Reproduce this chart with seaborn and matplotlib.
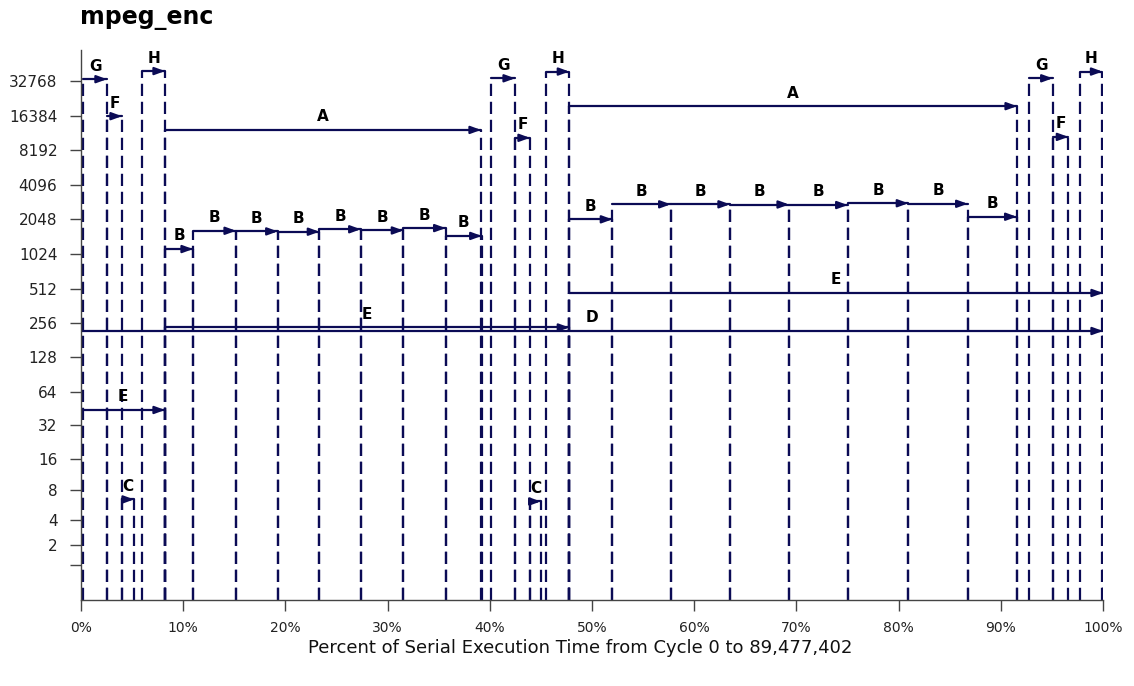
import numpy as np
import pandas as pd
import matplotlib
matplotlib.use('Agg')
import matplotlib.pyplot as plt
import seaborn as sns

# Task segments: name, start (% of serial time), end (%), value (log2(1+y) axis)
seg_names = ['E', 'D', 'G', 'F', 'C', 'H', 'A',
             'B', 'B', 'B', 'B', 'B', 'B', 'B', 'B', 'E',
             'G', 'F', 'C', 'H',
             'A', 'B', 'B', 'B', 'B', 'B', 'B', 'B', 'B', 'E',
             'G', 'F', 'H']
seg_start = [0.0, 0.0, 0.2, 2.54, 3.98, 5.97, 8.22,
             8.22, 10.96, 15.17, 19.25, 23.32, 27.37, 31.54, 35.68, 8.22,
             40.12, 42.47, 43.93, 45.50,
             47.78, 47.78, 51.99, 57.70, 63.50, 69.28, 75.02, 80.95, 86.76, 47.78,
             92.79, 95.08, 97.75]
seg_end = [8.22, 100.0, 2.54, 4.01, 5.19, 8.22, 39.14,
           10.96, 15.17, 19.25, 23.32, 27.37, 31.54, 35.68, 39.21, 47.78,
           42.47, 43.93, 44.98, 47.78,
           91.59, 51.99, 57.70, 63.50, 69.28, 75.02, 80.95, 86.76, 91.55, 100.0,
           95.08, 96.61, 99.95]
seg_value = [44, 218, 34000, 16200, 6.5, 40000, 12300,
             1130, 1630, 1610, 1600, 1680, 1640, 1720, 1470, 234,
             34600, 10500, 6.2, 39600,
             19800, 2050, 2770, 2770, 2760, 2730, 2830, 2800, 2160, 468,
             34600, 10700, 39600]

y_ticks = [1, 2, 4, 8, 16, 32, 64, 128, 256, 512, 1024, 2048, 4096,
           8192, 16384, 32768]
y_ticklabels = [''] + [str(v) for v in y_ticks[1:]]
x_ticks = [0, 10, 20, 30, 40, 50, 60, 70, 80, 90, 100]
x_ticklabels = [f'{v}%' for v in x_ticks]

navy = '#0b0b55'

sns.set_style('ticks')
plt.rcParams['font.family'] = ['DejaVu Sans']
plt.rcParams['text.color'] = '#111111'
plt.rcParams['xtick.labelcolor'] = '#222222'
plt.rcParams['ytick.labelcolor'] = '#222222'

# long-form tables for seaborn
hor = pd.DataFrame({
    'x': np.ravel(np.column_stack([seg_start, seg_end])),
    'y': np.repeat(seg_value, 2),
    'seg': np.repeat(np.arange(len(seg_names)), 2),
})
# dashed drop lines at both ends of every segment, drawn up from the axis
ver_x, ver_y, ver_u = [], [], []
k = 0
for s, e, v in zip(seg_start, seg_end, seg_value):
    for xx in (s, e):
        ver_x += [xx, xx]
        ver_y += [0, v]
        ver_u += [k, k]
        k += 1
ver = pd.DataFrame({'x': ver_x, 'y': ver_y, 'seg': ver_u})

fig = plt.figure(figsize=(11.34, 6.86), dpi=100)
ax = fig.add_axes([81 / 1134, 1 - 600 / 686, 1022 / 1134, 550 / 686])

ax.set_yscale('function', functions=(lambda y: np.log2(1 + np.maximum(y, -0.999)),
                                     lambda y: 2.0 ** y - 1))

sns.lineplot(data=ver, x='x', y='y', units='seg', estimator=None, sort=False,
             color=navy, lw=1.6, linestyle=(0, (5.5, 2.6)), ax=ax)
sns.lineplot(data=hor, x='x', y='y', units='seg', estimator=None, sort=False,
             color=navy, lw=1.6, ax=ax)

for name, s, e, v in zip(seg_names, seg_start, seg_end, seg_value):
    ax.annotate('', xy=(e, v), xytext=(e - 1.0, v),
                arrowprops=dict(arrowstyle='-|>,head_length=0.6,head_width=0.22',
                                color=navy, lw=1.6, shrinkA=0, shrinkB=0))
    ax.annotate(name, xy=((s + e) / 2, v), xytext=(0, 4), textcoords='offset points',
                ha='center', va='bottom', fontsize=11, fontweight='bold', color='black')

ax.set_xlim(0, 100)
ax.set_ylim(0, 61000)
ax.set_yticks(y_ticks)
ax.set_yticklabels(y_ticklabels)
ax.set_xticks(x_ticks)
ax.set_xticklabels(x_ticklabels)
ax.minorticks_off()
ax.tick_params(axis='y', length=8, width=1, color='#444444', labelsize=11, pad=9)
ax.tick_params(axis='x', length=8, width=1, color='#444444', labelsize=10, pad=7)
ax.set_xlabel('')
ax.set_ylabel('')
sns.despine(ax=ax)
for sp in ('left', 'bottom'):
    ax.spines[sp].set_color('#444444')
    ax.spines[sp].set_linewidth(1)

fig.text(80 / 1134, 1 - 18 / 686, 'mpeg_enc', fontsize=17, fontweight='bold',
         va='center', ha='left', color='black')
fig.text(580 / 1134, 1 - 648 / 686,
         'Percent of Serial Execution Time from Cycle 0 to 89,477,402',
         fontsize=13, ha='center', va='center')

fig.savefig('out.png', dpi=100)
